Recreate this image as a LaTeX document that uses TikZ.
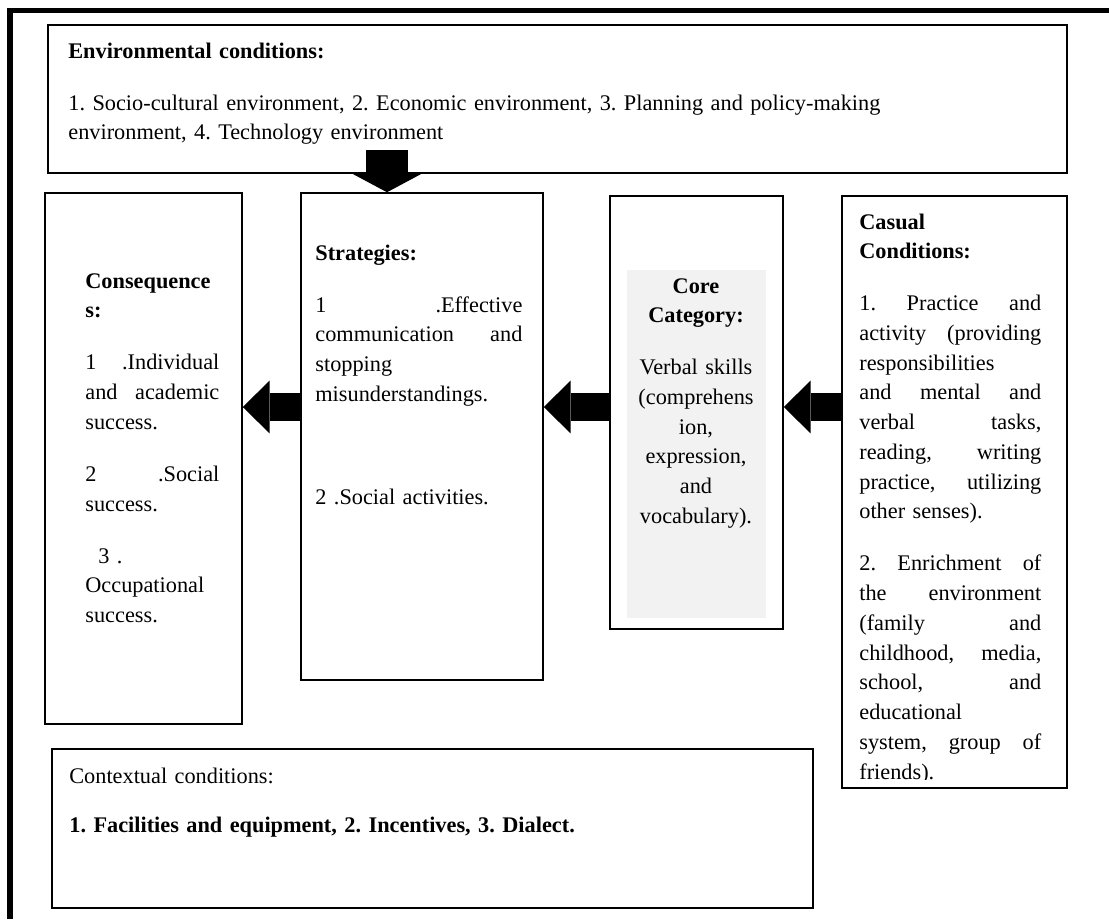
\documentclass[tikz,border=0pt]{standalone}
\usepackage{fontspec}
\setmainfont{Liberation Serif}
\usetikzlibrary{arrows.meta,fit}
\setlength{\parindent}{0pt}

\tikzset{
  box/.style={draw, line width=0.8pt, inner sep=0pt},
  txt/.style={inner sep=0pt, align=left, anchor=base west, font=\fontsize{12}{16}\selectfont\frenchspacing},
  leftarrow/.style={line width=15.1pt, -{Triangle[width=28.5pt,length=14.5pt,line width=0pt]}},
  downarrow/.style={line width=23.1pt, -{Triangle[width=40.4pt,length=10.8pt,line width=0pt]}},
}
\definecolor{coregray}{HTML}{F2F2F2}
\newcommand{\gap}{\\[12pt]}

\begin{document}
\begin{tikzpicture}[x=0.5381pt,y=-0.5381pt]
  \useasboundingbox (0,0) rectangle (1109,919);
  % outer frame
  \draw[line width=2.8pt] (10,919) -- (10,10.5) -- (1109,10.5);

  % boxes
  \node[box, fit={(48,25) (1067,173)}] (env) {};
  \node[box, fit={(45,193) (242,724)}] (cons) {};
  \node[box, fit={(301,193) (543,680)}] (strat) {};
  \node[box, fit={(610,196) (783,629)}] (core) {};
  \node[fill=coregray, inner sep=0pt, fit={(627,270) (766,618)}] (corebg) {};
  \node[box, fit={(842,196) (1067,788)}] (cas) {};
  \node[box, fit={(52,749) (813,908)}] (ctx) {};

  % texts
  \node[txt, text width=540pt] (envtxt) at (68,58) {\textbf{Environmental conditions:}\gap
    1. Socio-cultural environment, 2. Economic environment, 3. Planning and policy-making\\
    environment, 4. Technology environment};

  \node[txt, text width=72.1pt] (constxt) at (85,288) {\textbf{Consequence}\\
    \textbf{s:}\gap
    1 \hfill .Individual\\
    and \hfill academic\\
    success.\gap
    2 \hfill .Social\\
    success.\gap
    \hspace*{7pt}3 .\\
    Occupational\\
    success.};

  \node[txt, text width=111.4pt] (strattxt) at (315,260) {\textbf{Strategies:}\gap
    1 \hfill .Effective\\
    communication \hfill and\\
    stopping\\
    misunderstandings.\\[39.4pt]
    2 .Social activities.};

  \node[txt, align=center, anchor=base, text width=74.8pt] (coretxt) at (696,293) {\textbf{Core}\\
    \textbf{Category:}\gap
    Verbal skills\\
    (comprehens\\
    ion,\\
    expression,\\
    and\\
    vocabulary).};

  \begin{scope}
    \clip (cas.north west) rectangle (1067,779);
    \node[txt, text width=97.9pt] (castxt) at (859,229) {\textbf{Casual}\\
      \textbf{Conditions:}\gap
      1. \hfill Practice \hfill and\\
      activity \hfill (providing\\
      responsibilities\\
      and \hfill mental \hfill and\\
      verbal \hfill tasks,\\
      reading, \hfill writing\\
      practice, \hfill utilizing\\
      other senses).\gap
      2. \hfill Enrichment \hfill of\\
      the \hfill environment\\
      (family \hfill and\\
      childhood, \hfill media,\\
      school, \hfill and\\
      educational\\
      system, \hfill group \hfill of\\
      friends).};
  \end{scope}

  \node[txt, text width=700pt] (ctxtxt) at (69,783) {Contextual conditions:\\[10.4pt]
    \textbf{1. Facilities and equipment, 2. Incentives, 3. Dialect.}};

  % arrows
  \coordinate (lvl) at (0,407);
  \draw[leftarrow] (strat.west |- lvl) -- (cons.east |- lvl);
  \draw[leftarrow] (core.west |- lvl) -- (strat.east |- lvl);
  \draw[leftarrow] (cas.west |- lvl) -- (core.east |- lvl);
  \coordinate (drop) at (387,150);
  \draw[downarrow] (drop) -- (drop |- strat.north);
\end{tikzpicture}
\end{document}
